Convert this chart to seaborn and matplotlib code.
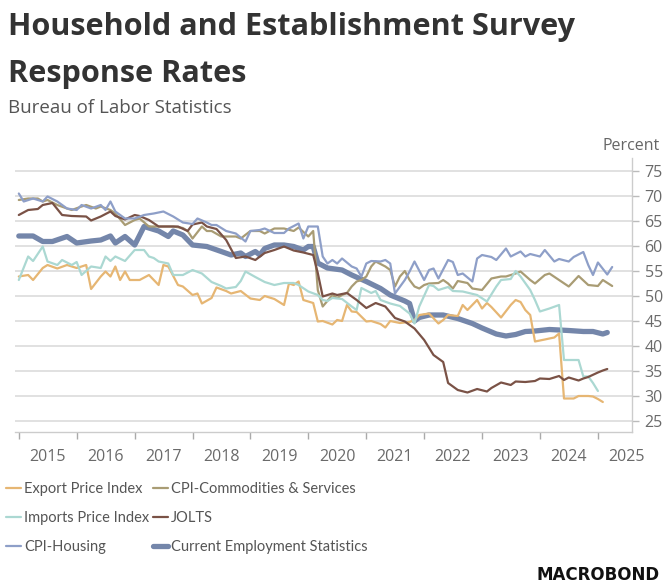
import numpy as np
import pandas as pd
import matplotlib
matplotlib.use("Agg")
import matplotlib.pyplot as plt
import matplotlib.dates as mdates
from matplotlib.lines import Line2D
import seaborn as sns

# ---------------- data (months since Jan 2015, response rate %) ----------------
ces_m = [0,3,5,7,10,12,15,17,19,20,22,24,26,29,31,32,34,36,39,42,44,46,47,49,50,
         51,53,55,57,59,60,61,62,64,67,69,72,75,77,80,81,82,83,85,88,91,94,96,99,101,
         103,105,107,110,114,117,119,121,122]
ces_v = [62.0,62.0,60.9,60.9,61.9,60.6,61.0,61.2,62.0,60.6,61.9,60.2,63.9,63.0,61.9,
         63.0,62.2,60.2,59.9,58.9,58.2,58.6,57.9,58.9,58.2,59.5,60.2,60.2,59.9,59.2,
         59.9,59.9,56.6,55.6,55.2,54.2,52.9,51.5,50.2,49.0,48.5,45.0,45.7,46.2,46.2,
         45.5,44.5,43.6,42.4,42.0,42.3,42.9,43.0,43.3,43.1,42.9,42.9,42.4,42.7]

jolts_m = [0,2,4,5,7,9,11,14,15,17,19,20,22,24,25,27,29,31,33,35,36,38,39,41,43,
           45,47,49,51,53,55,57,59,61,62,63,65,66,68,70,72,74,76,78,80,82,84,86,88,89,
           91,93,95,97,98,100,102,103,105,107,108,110,112,113,114,116,117,118,120,121,122]
jolts_v = [66.2,67.2,67.4,68.2,68.6,66.2,66.0,65.9,65.1,65.9,66.9,66.0,65.3,66.2,66.0,
           65.2,63.9,63.9,63.9,63.0,64.3,64.7,63.9,63.4,61.2,57.6,57.9,57.2,58.6,59.2,
           59.9,59.1,58.7,58.2,54.6,49.9,50.5,50.2,50.6,49.2,47.6,48.6,47.9,45.6,44.9,
           43.5,41.2,38.2,36.8,32.6,31.2,30.7,31.4,30.9,31.6,32.7,32.2,32.9,32.8,33.0,
           33.5,33.4,34.0,33.2,33.7,33.1,33.5,33.8,34.7,35.1,35.4]

export_m = [0,2,3,5,6,8,10,12,13,14,15,17,18,19,20,21,22,23,25,27,29,30,31,33,34,
            36,37,38,40,41,43,44,46,48,50,51,53,55,56,57,58,59,61,62,63,65,66,67,68,69,
            70,72,73,75,76,77,79,81,82,83,85,87,88,89,91,92,93,95,96,97,98,100,102,103,104,
            105,106,107,109,110,111,112,113,115,116,118,119,120,121]
export_v = [53.9,54.2,53.2,55.6,56.2,55.5,56.2,55.6,55.9,56.2,51.4,53.9,54.9,53.9,55.9,
            53.2,54.9,53.2,53.2,54.2,52.2,56.2,55.9,52.2,51.9,50.2,50.5,48.5,49.6,51.7,
            51.0,50.5,51.0,49.5,49.2,50.0,49.4,48.2,52.5,52.2,52.9,49.2,48.6,44.9,45.0,
            44.3,45.2,45.0,48.2,46.9,46.8,44.9,45.0,44.4,43.7,45.0,44.6,44.8,45.2,46.2,
            46.5,44.5,45.2,46.2,46.0,48.2,47.2,49.2,47.5,48.6,47.8,45.7,48.2,49.2,48.8,
            47.2,46.2,40.9,41.3,41.5,41.7,42.5,29.5,29.5,30.0,30.0,29.9,29.4,28.8]

imports_m = [0,2,3,5,6,8,9,11,12,13,15,17,18,19,20,22,24,26,27,28,29,31,32,34,36,
             38,40,42,43,45,46,47,49,51,53,55,57,58,60,62,63,64,65,67,69,70,71,73,74,75,
             77,79,81,82,83,85,86,87,89,90,92,95,97,99,100,102,103,104,106,107,
             108,110,112,113,116,117,118,119,120]
imports_v = [53.2,57.9,57.0,59.9,56.9,56.2,57.2,56.2,56.8,54.2,55.9,55.6,57.9,57.0,57.9,
             57.0,59.2,59.2,57.9,57.6,56.9,56.5,54.2,54.2,55.2,54.5,52.8,52.0,51.5,51.8,
             53.0,54.9,53.8,52.8,52.2,52.6,52.6,52.2,50.9,50.2,49.2,49.0,49.6,49.4,47.9,
             47.2,51.6,50.6,51.0,49.2,48.5,48.0,46.5,44.5,47.9,52.2,52.0,51.2,51.8,51.0,
             50.9,50.2,48.9,51.9,53.2,53.4,55.0,53.9,51.2,49.2,46.9,47.5,48.2,37.2,37.2,
             33.9,33.9,32.6,31.0]

cpicom_m = [0,2,4,5,6,8,10,11,13,14,16,17,19,20,22,24,25,27,29,32,34,35,36,38,39,
            40,42,45,46,48,50,51,53,55,57,58,60,61,62,63,65,66,67,68,69,70,71,72,73,74,
            76,77,78,79,80,81,82,83,84,85,87,88,89,90,91,93,94,96,98,100,101,103,104,106,107,
            109,110,112,114,116,118,120,121,123]
cpicom_v = [69.2,69.5,69.5,68.9,69.2,68.2,67.5,67.2,67.9,68.2,67.5,67.9,67.2,66.5,64.2,
            65.2,65.5,63.9,63.9,63.9,63.6,63.0,61.5,63.9,63.0,63.0,61.9,61.9,61.5,63.0,
            63.0,62.5,63.5,63.5,63.0,63.7,61.9,63.0,51.2,47.9,50.2,49.6,50.2,50.6,51.9,
            52.9,53.2,53.9,55.9,56.9,55.9,55.2,51.9,53.9,55.0,53.2,51.9,51.5,52.2,52.5,
            52.6,53.2,52.5,51.5,53.0,52.6,51.5,51.2,53.5,53.9,53.9,54.5,54.9,53.2,52.5,
            54.2,54.5,53.2,51.9,54.0,52.2,52.0,53.2,52.0]

housing_m = [0,1,3,5,6,8,10,12,13,15,17,18,19,20,22,24,26,28,30,32,34,36,37,39,40,
             41,43,45,47,48,50,51,53,55,56,58,59,60,62,63,64,65,66,67,69,70,71,72,73,75,
             76,77,78,80,81,82,84,85,86,87,89,90,91,92,94,95,96,98,99,101,102,104,105,106,108,
             109,111,112,114,115,117,118,119,120,122,123]
housing_v = [70.5,68.9,69.5,68.9,69.9,68.9,67.5,67.2,68.2,67.5,68.2,67.2,68.9,66.9,65.5,
             65.5,66.2,66.5,66.9,65.9,64.7,64.4,65.5,64.7,64.2,64.2,63.0,62.5,60.9,63.0,
             63.2,63.5,62.6,62.6,63.5,64.5,61.5,63.9,63.9,57.9,56.5,57.2,56.5,57.5,55.9,
             55.5,53.9,56.5,57.0,56.9,57.2,56.5,50.5,53.2,54.9,56.9,53.2,55.2,55.5,53.5,
             57.2,56.8,54.2,54.5,52.9,57.5,58.2,57.8,57.2,59.5,57.9,58.9,57.9,58.4,57.9,
             59.2,56.9,57.4,56.9,57.8,58.8,56.2,54.2,56.7,54.3,55.8]

series_names = ["Export Price Index", "Imports Price Index", "CPI-Housing",
                "CPI-Commodities & Services", "JOLTS", "Current Employment Statistics"]
year_ticks = list(range(2015, 2026))
y_ticks = [25, 30, 35, 40, 45, 50, 55, 60, 65, 70, 75]

# ---------------- styling ----------------
colors = {
    "Export Price Index": "#E6B673",
    "Imports Price Index": "#ABD8D2",
    "CPI-Housing": "#8E9FC8",
    "CPI-Commodities & Services": "#A99C74",
    "JOLTS": "#7A5246",
    "Current Employment Statistics": "#7486AA",
}
widths = {k: 1.6 for k in colors}
widths["Current Employment Statistics"] = 3.8

sns.set_theme(style="white")
plt.rcParams["font.family"] = ["Open Sans", "DejaVu Sans"]
NARROW = ["Lato", "DejaVu Sans"]

base = pd.Timestamp("2015-01-01")
def to_dates(months):
    return [base + pd.DateOffset(months=int(m)) for m in months]

data = {
    "Current Employment Statistics": (ces_m, ces_v),
    "Export Price Index": (export_m, export_v),
    "CPI-Commodities & Services": (cpicom_m, cpicom_v),
    "Imports Price Index": (imports_m, imports_v),
    "JOLTS": (jolts_m, jolts_v),
    "CPI-Housing": (housing_m, housing_v),
}

W, H = 669, 588
fig = plt.figure(figsize=(W / 100, H / 100), dpi=100)
ax = fig.add_axes([15 / W, 1 - 432 / H, (632 - 15) / W, (432 - 158) / H])

for name, (m, v) in data.items():
    df = pd.DataFrame({"date": to_dates(m), "value": v})
    sns.lineplot(data=df, x="date", y="value", ax=ax, color=colors[name],
                 linewidth=widths[name], legend=False, solid_capstyle="round")

ax.set_xlim(pd.Timestamp("2014-12-08"), pd.Timestamp("2025-08-04"))
ax.set_ylim(22.8, 77.6)
ax.set_xlabel("")
ax.set_ylabel("")

# y axis on the right
ax.yaxis.tick_right()
ax.set_yticks(y_ticks)
ax.tick_params(axis="y", which="major", length=5, width=1, color="#BBBBBB",
               labelsize=11.5, labelcolor="#6A6A6A", pad=4, right=True, left=False)
ax.grid(axis="y", color="#D9D9D9", linewidth=1.1)
ax.grid(axis="x", visible=False)

# x axis: year boundaries as ticks, labels centred between them
ax.set_xticks([pd.Timestamp(f"{y}-01-01") for y in year_ticks])
ax.xaxis.set_major_formatter(plt.NullFormatter())
ax.set_xticks([pd.Timestamp(f"{y}-07-01") for y in year_ticks], minor=True)
ax.set_xticklabels([str(y) for y in year_ticks], minor=True)
ax.tick_params(axis="x", which="major", length=5, width=1, color="#AAAAAA",
               direction="out", bottom=True)
ax.tick_params(axis="x", which="minor", length=0, labelsize=11.5,
               labelcolor="#6A6A6A", pad=12)

for s in ["top", "left"]:
    ax.spines[s].set_visible(False)
for s in ["bottom", "right"]:
    ax.spines[s].set_visible(True)
    ax.spines[s].set_color("#CCCCCC")
    ax.spines[s].set_linewidth(1.0)

# titles
fig.text(8 / W, 1 - 35 / H, "Household and Establishment Survey",
         ha="left", va="baseline", fontsize=22.1, fontweight="bold", color="#333333")
fig.text(8 / W, 1 - 82 / H, "Response Rates",
         ha="left", va="baseline", fontsize=22.1, fontweight="bold", color="#333333")
fig.text(8 / W, 1 - 113 / H, "Bureau of Labor Statistics", ha="left", va="baseline",
         fontsize=13.5, color="#555555")
fig.text(660 / W, 1 - 150 / H, "Percent", ha="right", va="baseline",
         fontsize=11.5, color="#666666")

# legend
handles = [Line2D([0], [0], color=colors[n], lw=widths[n]) for n in series_names]
fig.legend(handles, series_names, loc="upper left",
           bbox_to_anchor=(6 / W, 1 - 482 / H), ncol=2, frameon=False,
           prop={"family": NARROW, "size": 10.5}, labelcolor="#555555",
           handlelength=1.0, handletextpad=0.22, columnspacing=0.3,
           labelspacing=1.02, borderpad=0, borderaxespad=0)

fig.text(660 / W, 1 - 575 / H, "MACROBOND", ha="right", va="center",
         fontsize=12, fontweight="heavy", color="#111111", family="DejaVu Sans")

fig.savefig("out.png", dpi=100)
